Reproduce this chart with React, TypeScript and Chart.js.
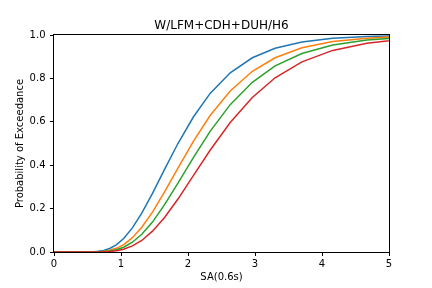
import React, { useEffect, useRef } from "react";
import { Chart, registerables } from "chart.js";

Chart.register(...registerables);

// Spectral acceleration SA(0.6s) sample points (g)
const saValues = [0, 0.4, 0.5, 0.6, 0.66, 0.74, 0.83, 0.93, 1.04, 1.17, 1.31, 1.47, 1.65, 1.85, 2.08, 2.33, 2.63, 2.96, 3.3, 3.7, 4.16, 4.67, 5.24];

// Probability of exceedance for each damage state curve
const curveBlue = [0, 0, 0.0002, 0.0013, 0.003, 0.007, 0.016, 0.033, 0.062, 0.111, 0.179, 0.27, 0.381, 0.5, 0.622, 0.731, 0.826, 0.895, 0.939, 0.968, 0.985, 0.993, 0.997];
const curveOrange = [0, 0, 0.0001, 0.0005, 0.0012, 0.0032, 0.0077, 0.017, 0.034, 0.066, 0.114, 0.184, 0.277, 0.387, 0.51, 0.629, 0.742, 0.833, 0.895, 0.941, 0.97, 0.985, 0.994];
const curveGreen = [0, 0, 0, 0.0003, 0.0006, 0.0018, 0.0045, 0.01, 0.022, 0.045, 0.082, 0.138, 0.218, 0.317, 0.435, 0.556, 0.679, 0.782, 0.858, 0.915, 0.954, 0.977, 0.989];
const curveRed = [0, 0, 0, 0.0001, 0.0003, 0.0009, 0.0023, 0.0057, 0.013, 0.028, 0.053, 0.096, 0.159, 0.244, 0.352, 0.469, 0.597, 0.712, 0.803, 0.876, 0.929, 0.962, 0.981];

const chartTitle = "W/LFM+CDH+DUH/H6";
const xTitle = "SA(0.6s)";
const yTitle = "Probability of Exceedance";

const FONT = "'DejaVu Sans', sans-serif";

// Draws the axes frame and the title centred over the plot area
const frame = {
  id: "frame",
  afterDatasetsDraw(chart: any) {
    const { ctx, chartArea } = chart;
    ctx.save();
    ctx.strokeStyle = "#000";
    ctx.lineWidth = 1;
    ctx.strokeRect(
      Math.round(chartArea.left) - 0.5,
      Math.round(chartArea.top) - 0.5,
      Math.round(chartArea.right - chartArea.left) + 1,
      Math.round(chartArea.bottom - chartArea.top) + 1
    );
    ctx.fillStyle = "#000";
    ctx.font = `12px ${FONT}`;
    ctx.textAlign = "center";
    ctx.textBaseline = "alphabetic";
    ctx.fillText(chartTitle, (chartArea.left + chartArea.right) / 2, chartArea.top - 6);
    ctx.restore();
  },
};

function series(values: number[], color: string, order: number) {
  return {
    data: saValues.map((x, i) => ({ x, y: values[i] })),
    borderColor: color,
    backgroundColor: color,
    borderWidth: 1.5,
    pointRadius: 0,
    tension: 0,
    fill: false,
    order,
  };
}

export default function App() {
  const ref = useRef<HTMLCanvasElement>(null);

  useEffect(() => {
    if (!ref.current) return;
    const chart = new Chart(ref.current, {
      type: "line",
      data: {
        datasets: [
          series(curveBlue, "#1f77b4", 4),
          series(curveOrange, "#ff7f0e", 3),
          series(curveGreen, "#2ca02c", 2),
          series(curveRed, "#d62728", 1),
        ],
      },
      options: {
        responsive: false,
        animation: false,
        layout: { padding: { left: 0, right: 43, top: 35, bottom: 0 } },
        plugins: {
          legend: { display: false },
          tooltip: { enabled: false },
          title: { display: false },
        },
        scales: {
          x: {
            type: "linear",
            min: 0,
            max: 5,
            afterFit: (s: any) => {
              s.height = 36;
            },
            ticks: {
              stepSize: 1,
              color: "#000",
              padding: 2,
              font: { family: FONT, size: 10 },
              callback: (v: any) => String(v),
            },
            grid: { drawOnChartArea: false, drawTicks: true, tickLength: 4, color: "#000" },
            border: { display: false },
            title: {
              display: true,
              text: xTitle,
              color: "#000",
              font: { family: FONT, size: 10 },
              padding: { top: 0, bottom: 5 },
            },
          },
          y: {
            min: 0,
            max: 1,
            afterFit: (s: any) => {
              s.width = 54;
            },
            ticks: {
              stepSize: 0.2,
              color: "#000",
              padding: 4.5,
              font: { family: FONT, size: 10 },
              callback: (v: any) => Number(v).toFixed(1),
            },
            grid: { drawOnChartArea: false, drawTicks: true, tickLength: 4, color: "#000" },
            border: { display: false },
            title: {
              display: true,
              text: yTitle,
              color: "#000",
              font: { family: FONT, size: 10 },
              padding: { top: 14.5, bottom: 0 },
            },
          },
        },
      },
      plugins: [frame],
    });
    return () => chart.destroy();
  }, []);

  return (
    <div style={{ position: "absolute", left: 0, top: 0, width: 432, height: 288, background: "#fff" }}>
      <canvas ref={ref} width={432} height={288} style={{ display: "block" }} />
    </div>
  );
}
